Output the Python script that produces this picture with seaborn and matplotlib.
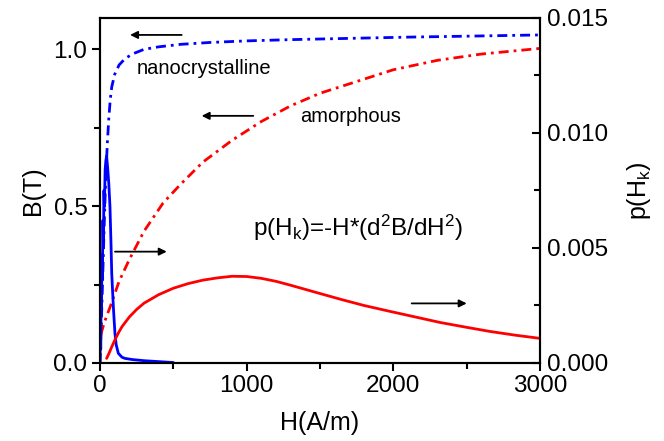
import numpy as np
import matplotlib
matplotlib.use('Agg')
import matplotlib.pyplot as plt
import pandas as pd
import seaborn as sns
from matplotlib.ticker import MultipleLocator, FormatStrFormatter

######################################### DATA #########################################

# B(H) curves (left axis)
h_nano_b = [0, 10, 20, 30, 40, 50, 60, 70, 80, 100, 130, 170, 220, 300, 400, 550,
            750, 1000, 1300, 1700, 2100, 2500, 3000]
b_nano = [0.0, 0.14, 0.30, 0.46, 0.60, 0.70, 0.78, 0.84, 0.88, 0.92, 0.95, 0.97,
          0.985, 1.0, 1.008, 1.016, 1.022, 1.027, 1.031, 1.035, 1.039, 1.042, 1.046]

h_amor_b = [5, 30, 70, 130, 200, 300, 430, 550, 700, 900, 1100, 1300, 1500, 1700,
            2000, 2300, 2600, 3000]
b_amor = [0.09, 0.13, 0.18, 0.26, 0.33, 0.42, 0.51, 0.57, 0.64, 0.71, 0.77, 0.82,
          0.86, 0.89, 0.935, 0.965, 0.985, 1.003]

# p(Hk) curves (right axis)
h_nano_p = [0, 3, 5, 8, 10, 13, 16, 20, 23, 27, 30, 35, 40, 45, 52, 60, 68, 75, 80,
            86, 91, 97, 102, 110, 125, 150, 170, 220, 300, 400, 500]
p_nano = [0.0, 0.0016, 0.0006, 0.0032, 0.0021, 0.0047, 0.0036, 0.0062, 0.0052,
          0.0075, 0.0068, 0.0084, 0.0088, 0.0090, 0.0085, 0.0078, 0.0068, 0.0052,
          0.0039, 0.0031, 0.00245, 0.0018, 0.00129, 0.0008, 0.00042, 0.00025,
          0.0002, 0.00015, 0.0001, 0.00006, 0.00002]

h_amor_p = [45, 60, 80, 100, 125, 150, 200, 250, 300, 400, 500, 600, 700, 800, 900,
            1000, 1100, 1200, 1300, 1400, 1500, 1640, 1800, 1980, 2150, 2320, 2500,
            2660, 2830, 3000]
p_amor = [0.0002, 0.0004, 0.0007, 0.00098, 0.0013, 0.00158, 0.002, 0.00233, 0.0026,
          0.00297, 0.00325, 0.00345, 0.0036, 0.0037, 0.00377, 0.00376, 0.00368,
          0.00355, 0.00338, 0.0032, 0.00302, 0.00277, 0.0025, 0.00224, 0.002,
          0.00176, 0.00155, 0.00137, 0.00121, 0.00107]

######################################### PLOT #########################################

sns.set_style('ticks')
plt.rcParams['font.family'] = ['Liberation Sans', 'DejaVu Sans']
plt.rcParams['mathtext.fontset'] = 'custom'
plt.rcParams['mathtext.rm'] = 'Liberation Sans'
plt.rcParams['mathtext.it'] = 'Liberation Sans'
plt.rcParams['axes.linewidth'] = 1.5
plt.rcParams['axes.edgecolor'] = 'black'
plt.rcParams['xtick.color'] = 'black'
plt.rcParams['ytick.color'] = 'black'
plt.rcParams['text.color'] = 'black'
plt.rcParams['axes.labelcolor'] = 'black'

fig, ax = plt.subplots(figsize=(6.64, 4.41), dpi=100)
fig.subplots_adjust(left=0.1506, right=0.8133, bottom=0.1769, top=0.9592)
ax2 = ax.twinx()

dashdot = (3.6, 1.8, 1, 1.8)

sns.lineplot(x=h_nano_b, y=b_nano, ax=ax, color='blue', lw=2)
ax.lines[-1].set_dashes(dashdot)
sns.lineplot(x=h_amor_b, y=b_amor, ax=ax, color='red', lw=2)
ax.lines[-1].set_dashes(dashdot)

sns.lineplot(x=h_nano_p, y=p_nano, ax=ax2, color='blue', lw=2)
sns.lineplot(x=h_amor_p, y=p_amor, ax=ax2, color='red', lw=2)

ax.set_xlim(0, 3000)
ax.set_ylim(0, 1.1)
ax2.set_ylim(0, 0.015)

ax.xaxis.set_major_locator(MultipleLocator(1000))
ax.xaxis.set_minor_locator(MultipleLocator(500))
ax.yaxis.set_major_locator(MultipleLocator(0.5))
ax.yaxis.set_minor_locator(MultipleLocator(0.25))
ax.yaxis.set_major_formatter(FormatStrFormatter('%.1f'))
ax2.yaxis.set_major_locator(MultipleLocator(0.005))
ax2.yaxis.set_minor_locator(MultipleLocator(0.0025))
ax2.yaxis.set_major_formatter(FormatStrFormatter('%.3f'))

ax.tick_params(axis='both', which='major', direction='out', length=6, width=1.5,
               labelsize=17.5, pad=3)
ax.tick_params(axis='both', which='minor', direction='out', length=4, width=1.5)
ax2.tick_params(axis='y', which='major', direction='in', length=6, width=1.5,
                labelsize=17.5, pad=5)
ax2.tick_params(axis='y', which='minor', direction='in', length=4, width=1.5)

ax.set_xlabel('H(A/m)', fontsize=18, labelpad=10)
ax.set_ylabel('B(T)', fontsize=18, labelpad=6)
ax2.set_ylabel(r'p(H$_\mathrm{k}$)', fontsize=18, labelpad=12)

# annotations
ax.text(250, 0.94, 'nanocrystalline', fontsize=14.5, va='center', ha='left')
ax.text(1364, 0.785, 'amorphous', fontsize=14.5, va='center', ha='left')
ax.text(1043, 0.43, r'p(H$_\mathrm{k}$)=-H*(d$^2$B/dH$^2$)', fontsize=17.5,
        va='center', ha='left')

arrow = dict(arrowstyle='-|>', color='black', lw=1.3, mutation_scale=11,
             shrinkA=0, shrinkB=0)
ax.annotate('', xy=(205, 1.046), xytext=(557, 1.046), arrowprops=arrow)
ax.annotate('', xy=(693, 0.788), xytext=(1045, 0.788), arrowprops=arrow)
ax.annotate('', xy=(455, 0.355), xytext=(102, 0.355), arrowprops=arrow)
ax.annotate('', xy=(2500, 0.19), xytext=(2125, 0.19), arrowprops=arrow)

plt.savefig('out.png', dpi=100)
